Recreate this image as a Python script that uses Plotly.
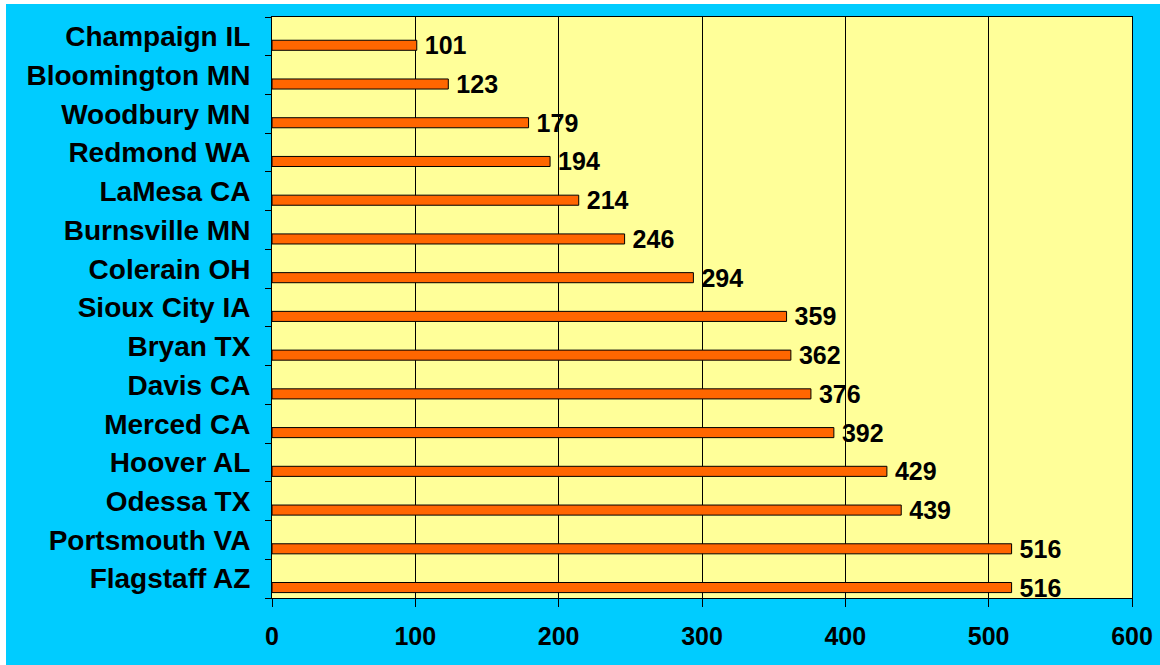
import plotly.graph_objects as go

cities = ["Champaign IL", "Bloomington MN", "Woodbury MN", "Redmond WA", "LaMesa CA",
          "Burnsville MN", "Colerain OH", "Sioux City IA", "Bryan TX", "Davis CA",
          "Merced CA", "Hoover AL", "Odessa TX", "Portsmouth VA", "Flagstaff AZ"]
values = [101, 123, 179, 194, 214, 246, 294, 359, 362, 376, 392, 429, 439, 516, 516]
x_ticks = [0, 100, 200, 300, 400, 500, 600]

FONT = "Arial, Liberation Sans, sans-serif"

fig = go.Figure()
fig.add_trace(go.Bar(
    y=cities, x=values, orientation="h",
    width=0.26, offset=0.10,
    marker=dict(color="#FF6600", line=dict(color="#000000", width=1)),
    text=[str(v) for v in values], textposition="outside",
    textfont=dict(family=FONT, size=25, color="#000000"),
    constraintext="none", cliponaxis=False,
    texttemplate="\u2009<b>%{text}</b>",
))

W, H = 1160, 665
L, R, T, B = 272, 28, 17, 67
pw, ph = W - L - R, H - T - B

def px(xp):
    return (xp - L) / pw

def py(yp):
    return (H - B - yp) / ph

fig.update_layout(
    template="none",
    width=W, height=H,
    margin=dict(l=L, r=R, t=T, b=B, pad=0, autoexpand=False),
    paper_bgcolor="#FFFFFF",
    plot_bgcolor="#FFFF99",
    showlegend=False,
    shapes=[
        dict(type="rect", xref="paper", yref="paper", layer="below",
             x0=px(6), x1=px(W + 2), y0=py(4), y1=py(H + 2),
             fillcolor="#00CCFF", line=dict(width=0)),
        dict(type="rect", xref="paper", yref="paper", layer="below",
             x0=0, x1=1, y0=0, y1=1,
             fillcolor="#FFFF99", line=dict(width=0)),
    ],
    xaxis=dict(
        automargin=False,
        range=[0, 600], tickmode="array", tickvals=x_ticks,
        ticktext=["<b>%d</b>" % t for t in x_ticks],
        showgrid=True, gridcolor="#000000", gridwidth=1,
        zeroline=False, showline=True, linecolor="#000000", linewidth=1, mirror=True,
        ticks="outside", ticklen=8, tickcolor="#000000", tickwidth=1,
        tickfont=dict(family=FONT, size=25, color="#000000"),
        ticklabelstandoff=8,
    ),
    yaxis=dict(
        automargin=False,
        categoryorder="array", categoryarray=cities,
        tickmode="array", tickvals=cities,
        ticktext=["<b>%s</b>" % c for c in cities],
        range=[14.5, -0.5],
        showgrid=False, zeroline=False,
        showline=True, linecolor="#000000", linewidth=1, mirror=True,
        ticks="outside", ticklen=6, tickcolor="#000000", tickwidth=1,
        tickson="boundaries",
        tickfont=dict(family=FONT, size=28, color="#000000"),
        ticklabelstandoff=15,
    ),
)

fig.write_html("out.html")
